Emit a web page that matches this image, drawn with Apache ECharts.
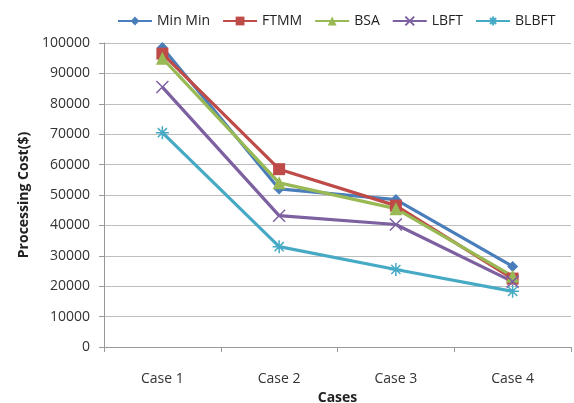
<!DOCTYPE html>
<html><head><meta charset="utf-8">
<script src="https://cdn.jsdelivr.net/npm/echarts@6/dist/echarts.min.js"></script>
<style>html,body{margin:0;padding:0;background:#fff}#c{width:574px;height:403px}</style>
</head><body><div id="c"></div>
<script>
var categories = ['Case 1', 'Case 2', 'Case 3', 'Case 4'];
var minMin = [98500, 52000, 48500, 26500];
var ftmm = [96500, 58500, 46500, 22500];
var bsa = [95000, 54000, 45500, 23300];
var lbft = [85500, 43200, 40300, 21500];
var blbft = [70500, 33000, 25500, 18300];
var yTicks = [0, 10000, 20000, 30000, 40000, 50000, 60000, 70000, 80000, 90000, 100000];

var font = '"Open Sans", sans-serif';
function mk(name, data, color, symbol, size, stroke) {
  return {
    name: name, type: 'line', data: data, symbol: symbol, symbolSize: size,
    showAllSymbol: true,
    lineStyle: { color: color, width: 3.2 },
    itemStyle: stroke ? { color: color, borderColor: color, borderWidth: 1.5 } : { color: color, borderWidth: 0 },
    emphasis: { disabled: true }, animation: false
  };
}
var chart = echarts.init(document.getElementById('c'));
chart.setOption({
  animation: false,
  legend: {
    top: 14, left: 117, width: 455, padding: 0, itemWidth: 34, itemHeight: 11, itemGap: 12,
    textStyle: { fontFamily: font, fontSize: 14, color: '#222' },
    data: ['Min Min', 'FTMM', 'BSA', 'LBFT', 'BLBFT']
  },
  grid: { left: 104, right: 3, top: 43, bottom: 56, outerBoundsMode: 'none', containLabel: false },
  xAxis: {
    type: 'category', data: categories, boundaryGap: true,
    name: 'Cases', nameLocation: 'middle', nameGap: 41,
    nameTextStyle: { fontFamily: font, fontSize: 14, fontWeight: 'bold', color: '#222' },
    axisLine: { lineStyle: { color: '#999' } },
    axisTick: { show: true, alignWithLabel: false, length: 5, lineStyle: { color: '#999' } },
    axisLabel: { fontFamily: font, fontSize: 14, color: '#333', margin: 25 }
  },
  yAxis: {
    type: 'value', min: 0, max: 100000, interval: 10000,
    name: 'Processing Cost($)', nameLocation: 'middle', nameGap: 73, nameRotate: 90,
    nameTextStyle: { fontFamily: font, fontSize: 14, fontWeight: 'bold', color: '#222' },
    axisLine: { show: true, lineStyle: { color: '#999' } },
    axisTick: { show: true, length: 5, lineStyle: { color: '#999' } },
    splitLine: { lineStyle: { color: '#bdbdbd', width: 1 } },
    axisLabel: { fontFamily: font, fontSize: 14, color: '#333', margin: 14,
      formatter: function (v) { return yTicks.indexOf(v) >= 0 ? String(v) : ''; } }
  },
  series: [
    mk('Min Min', minMin, '#4A7EBB', 'diamond', 11),
    mk('FTMM', ftmm, '#BE4B48', 'rect', 12),
    mk('BSA', bsa, '#98B954', 'triangle', 13),
    mk('LBFT', lbft, '#7D60A0', 'path://M0,0L10,10M10,0L0,10', 12, true),
    mk('BLBFT', blbft, '#46AAC5', 'path://M5,0L5,10M0,5L10,5M1.5,1.5L8.5,8.5M8.5,1.5L1.5,8.5', 13, true)
  ]
});
</script></body></html>
